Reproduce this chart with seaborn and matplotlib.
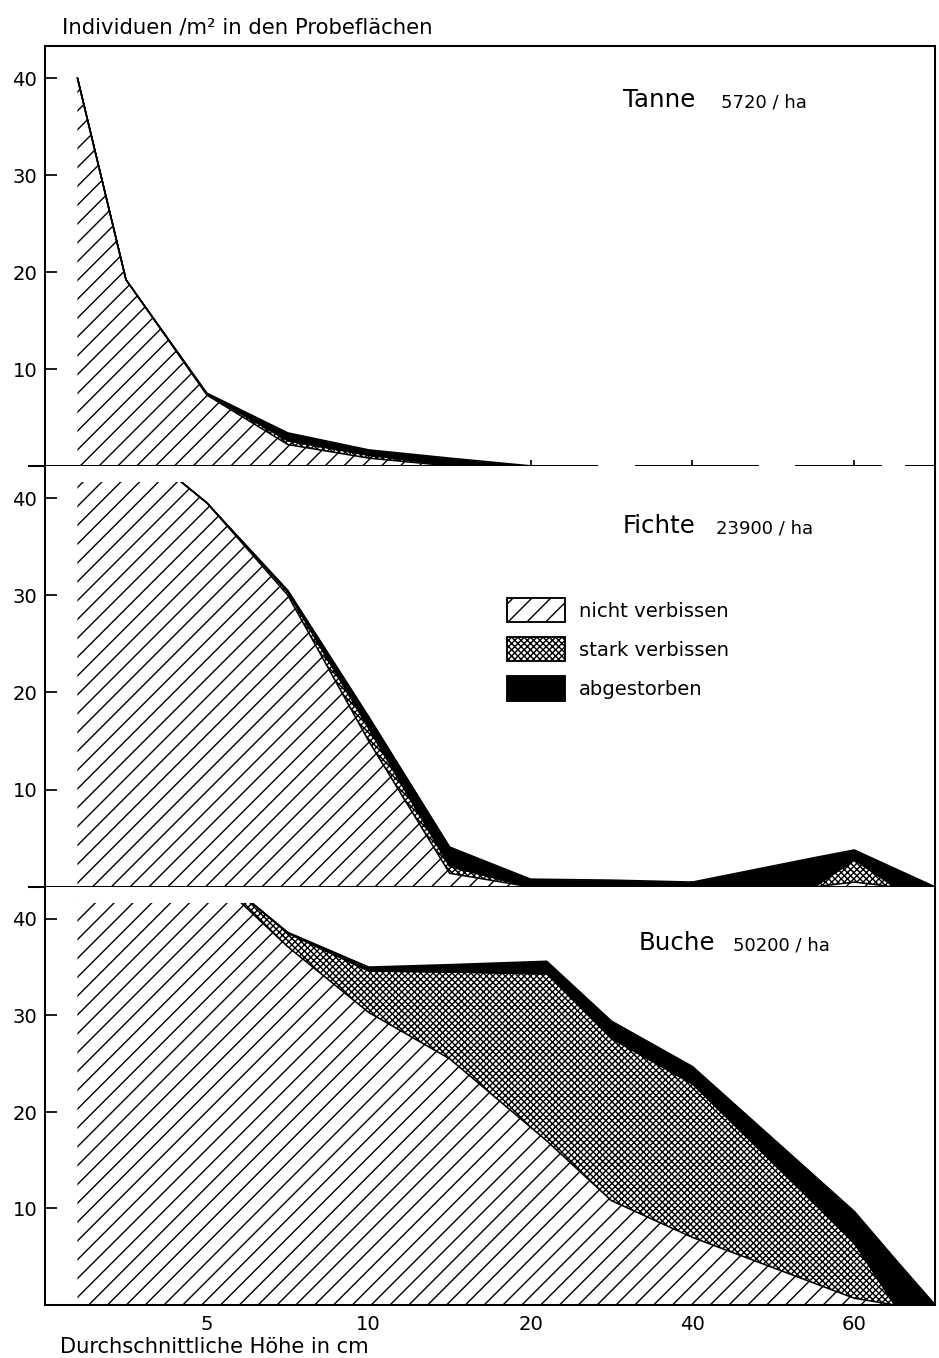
import numpy as np
import seaborn as sns
import matplotlib
matplotlib.use('Agg')
from matplotlib import pyplot as plt
from matplotlib.patches import Rectangle, Patch

# heights (cm) and stacked densities (Individuen / m2)
tanne_hoehe = [1, 2.5, 5, 7.5, 10, 15, 20]
tanne_nicht = [40, 19.2, 7.3, 2.2, 0.8, 0, 0]
tanne_stark = [0, 0, 0.1, 0.4, 0.3, 0.1, 0]
tanne_tot = [0, 0, 0.1, 0.8, 0.55, 0.7, 0]

fichte_hoehe = [1, 2.5, 5, 7.5, 10, 15, 20, 30, 40, 55, 60, 65, 70]
fichte_nicht = [52, 46.3, 39.5, 30.0, 15.0, 1.4, 0, 0, 0, 0, 0.5, 0, 0]
fichte_stark = [0, 0, 0, 0.3, 1.3, 0.7, 0, 0, 0, 0, 2.3, 0, 0]
fichte_tot = [0, 0, 0, 0.2, 1.2, 2.0, 0.8, 0.7, 0.5, 3.0, 1.0, 1.9, 0]

buche_hoehe = [1, 2.5, 5, 7.5, 10, 15, 22, 30, 40, 60, 65, 70]
buche_nicht = [55, 50, 45, 37.1, 30.3, 25.5, 17.0, 10.8, 7.0, 0.7, 0, 0]
buche_stark = [0, 0, 0.5, 1.4, 4.3, 9.0, 17.3, 16.8, 15.9, 5.7, 0, 0]
buche_tot = [0, 0, 0, 0.1, 0.4, 0.75, 1.3, 1.8, 1.8, 3.3, 4.8, 0]

arten = ['Tanne', 'Fichte', 'Buche']
dichte = ['5720 / ha', '23900 / ha', '50200 / ha']
x_ticks = [5, 10, 20, 40, 60]
y_ticks = [10, 20, 30, 40]
legend_labels = ['nicht verbissen', 'stark verbissen', 'abgestorben']

# piecewise height axis: 0-10 cm linear, then 10-20 and 20-70 compressed
knots_cm = [0, 10, 20, 70]
knots_pos = [0, 2, 3, 5.5]


def fwd(v):
    return np.interp(v, knots_cm, knots_pos)


def inv(v):
    return np.interp(v, knots_pos, knots_cm)


W, H, DPI = 939, 1358, 113
sns.set_style('ticks')
plt.rcParams['font.family'] = ['DejaVu Sans']
plt.rcParams['hatch.linewidth'] = 0.9
plt.rcParams['hatch.color'] = 'black'
for key in ['text.color', 'axes.labelcolor', 'xtick.color', 'ytick.color', 'axes.edgecolor']:
    plt.rcParams[key] = 'black'

HATCH_NICHT = '//'
HATCH_STARK = 'xxxxxx'

fig = plt.figure(figsize=((W + 0.2) / DPI, (H + 0.2) / DPI), dpi=DPI)


def fx(px):
    return px / W


def fy(py):
    return 1 - py / H


left, right = 45, 935
rows = [(46, 466), (466, 887), (887, 1305)]
axes = []
for top, bot in rows:
    ax = fig.add_axes([fx(left), fy(bot), (right - left) / W, (bot - top) / H])
    axes.append(ax)

YMAX = 43.3
CLIP = 41.6
LW = 1.3


def draw_panel(ax, hoehe, nicht, stark, tot):
    ax.set_xscale('function', functions=(fwd, inv))
    h = np.array(hoehe, dtype=float)
    n = np.array(nicht, dtype=float)
    s = n + np.array(stark)
    t = s + np.array(tot)
    ax.fill_between(h, 0, n, facecolor='white', edgecolor='black', hatch=HATCH_NICHT, linewidth=0)
    ax.fill_between(h, n, s, facecolor='white', edgecolor='black', hatch=HATCH_STARK, linewidth=0)
    ax.fill_between(h, s, t, facecolor='black', edgecolor='black', linewidth=0.5)
    for level in (n, s, t):
        sns.lineplot(x=h, y=level, ax=ax, color='black', linewidth=1.0, estimator=None)
    clip = Rectangle((0, 0), 70, CLIP, transform=ax.transData)
    for art in list(ax.collections) + list(ax.lines):
        art.set_clip_path(clip)
    ax.set_xlim(0, 70)
    ax.set_ylim(0, YMAX)
    ax.set_yticks(y_ticks)
    ax.set_yticklabels([str(v) for v in y_ticks])
    ax.set_xticks(x_ticks)
    ax.set_xlabel('')
    ax.set_ylabel('')
    ax.tick_params(axis='y', direction='in', length=7.6, width=1.1, pad=5, labelsize=12.5)
    for sp in ax.spines.values():
        sp.set_linewidth(LW)


data = [(tanne_hoehe, tanne_nicht, tanne_stark, tanne_tot),
        (fichte_hoehe, fichte_nicht, fichte_stark, fichte_tot),
        (buche_hoehe, buche_nicht, buche_stark, buche_tot)]
for ax, d in zip(axes, data):
    draw_panel(ax, *d)

# top panel: baseline partly dashed, drawn by hand
ax0, ax1, ax2 = axes
ax0.spines['bottom'].set_visible(False)
for a, b in [(-0.019, 0.621), (0.663, 0.802), (0.843, 0.940), (0.966, 1.0)]:
    ax0.plot([a, b], [0, 0], transform=ax0.get_yaxis_transform(), color='black',
             lw=LW, clip_on=False, solid_capstyle='butt')
ax1.spines['top'].set_visible(False)
ax1.plot([-0.019, 0], [0, 0], transform=ax1.get_yaxis_transform(), color='black',
         lw=LW, clip_on=False, solid_capstyle='butt')
ax2.spines['top'].set_visible(False)

for ax in (ax0, ax1):
    ax.tick_params(axis='x', direction='inout', length=7.6, width=1.1, labelbottom=False)
ax2.tick_params(axis='x', direction='in', length=5.7, width=1.1, pad=6, labelsize=12.5)
ax2.set_xticklabels([str(v) for v in x_ticks])

# species titles
title_pos = [(623, 721, 107), (622, 716, 533), (638, 733, 950)]
for (xa, xb, yb), art, d in zip(title_pos, arten, dichte):
    fig.text(fx(xa), fy(yb), art, fontsize=15.5, va='baseline', ha='left')
    fig.text(fx(xb), fy(yb), d, fontsize=11.5, va='baseline', ha='left')

fig.text(fx(62), fy(33), 'Individuen /m² in den Probeflächen', fontsize=13.5,
         va='baseline', ha='left')
fig.text(fx(60), fy(1353), 'Durchschnittliche Höhe in cm', fontsize=13.4,
         va='baseline', ha='left')

handles = [Patch(facecolor='white', edgecolor='black', hatch=HATCH_NICHT, linewidth=1.2),
           Patch(facecolor='white', edgecolor='black', hatch=HATCH_STARK, linewidth=1.2),
           Patch(facecolor='black', edgecolor='black', linewidth=1.2)]
ax1.legend(handles, legend_labels, loc='upper left', bbox_to_anchor=(fx(507), fy(598)),
           bbox_transform=fig.transFigure, frameon=False, fontsize=12.5,
           handlelength=2.96, handleheight=1.52, labelspacing=0.77,
           handletextpad=0.71, borderpad=0, borderaxespad=0)

fig.savefig('out.png', dpi=DPI)
